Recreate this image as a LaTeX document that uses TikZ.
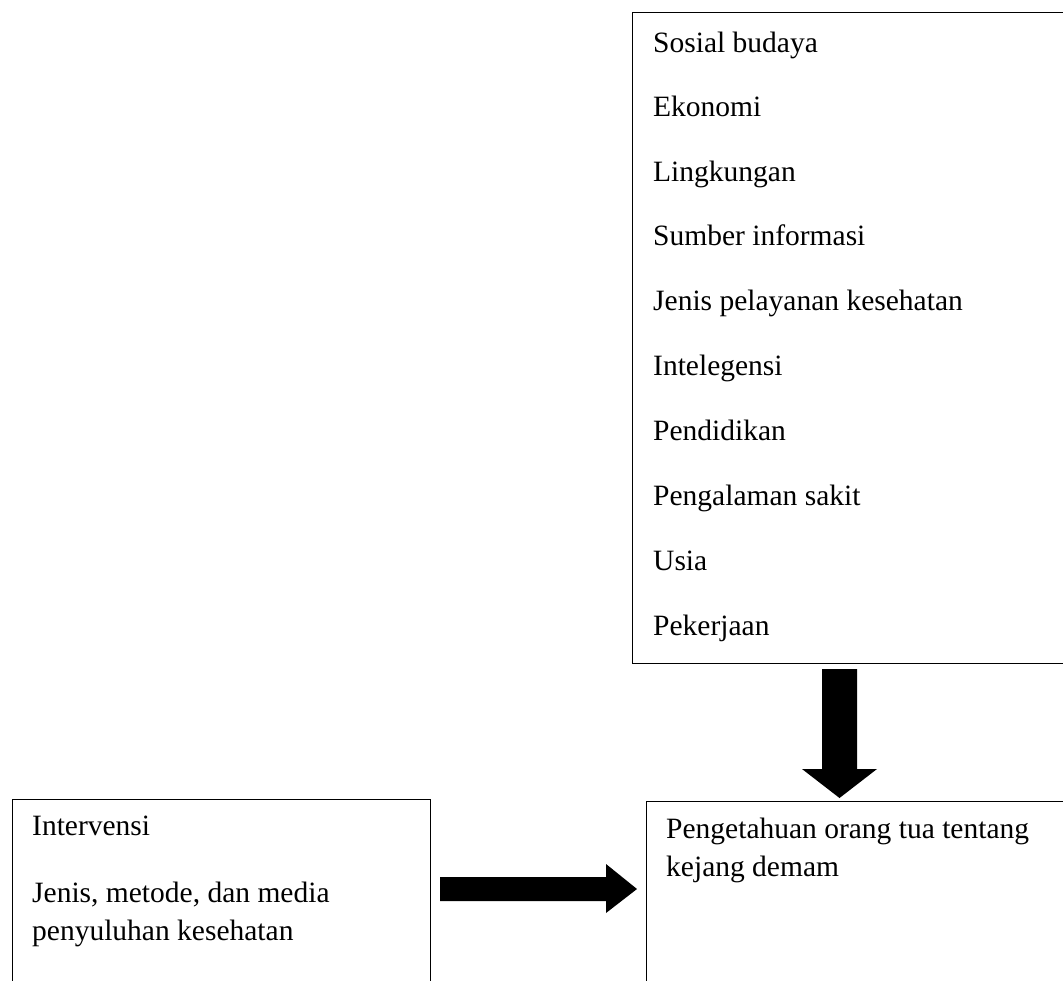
\documentclass[tikz,border=0pt]{standalone}
\usepackage{fontspec}
\setmainfont{Liberation Serif}
\begin{document}
\begin{tikzpicture}[x=1pt,y=-1pt,
  box/.style={draw=black,line width=1.3pt,rectangle,inner sep=0pt,anchor=north west},
  lbl/.style={inner sep=0pt,anchor=base west,font=\fontsize{29.5}{38}\selectfont},
  blockarrow/.style={fill=black,draw=none}]
\useasboundingbox (0,0) rectangle (1063,980);
\clip (0,0) rectangle (1063,980);
\fill[white] (0,0) rectangle (1063,980);
% factor box
\node[box,minimum width=438pt,minimum height=651pt] (factors) at (632,12) {};
\node[lbl] (f1) at (653,52) {Sosial budaya};
\node[lbl] (f2) at (653,116.5) {Ekonomi};
\node[lbl] (f3) at (653,181) {Lingkungan};
\node[lbl] (f4) at (653,245.5) {Sumber informasi};
\node[lbl] (f5) at (653,310) {Jenis pelayanan kesehatan};
\node[lbl] (f6) at (653,375) {Intelegensi};
\node[lbl] (f7) at (653,440) {Pendidikan};
\node[lbl] (f8) at (653,505) {Pengalaman sakit};
\node[lbl] (f9) at (653,570) {Usia};
\node[lbl] (f10) at (653,635) {Pekerjaan};
% intervention box
\node[box,minimum width=418pt,minimum height=200pt] (interv) at (12,799) {};
\node[lbl] (i1) at (32,835) {Intervensi};
\node[lbl] (i2) at (32,902) {Jenis, metode, dan media};
\node[lbl] (i3) at (32,940) {penyuluhan kesehatan};
% knowledge box
\node[box,minimum width=424pt,minimum height=200pt] (know) at (646,801) {};
\node[lbl] (k1) at (666,838) {Pengetahuan orang tua tentang};
\node[lbl] (k2) at (666,876) {kejang demam};
% down block arrow (factors -> knowledge)
\coordinate (dtl) at (822,669);
\coordinate (dtr) at (857,669);
\coordinate (dtip) at (839.5,798);
\fill[blockarrow] (dtl) -- (dtr) -- (857,769) -- (877,769) -- (dtip) -- (802,769) -- (822,769) -- cycle;
% right block arrow (intervention -> knowledge)
\coordinate (rtt) at (440,877);
\coordinate (rtb) at (440,901);
\coordinate (rtip) at (637,889);
\fill[blockarrow] (rtt) -- (606,877) -- (606,864) -- (rtip) -- (606,913) -- (606,901) -- (rtb) -- cycle;
\end{tikzpicture}
\end{document}
